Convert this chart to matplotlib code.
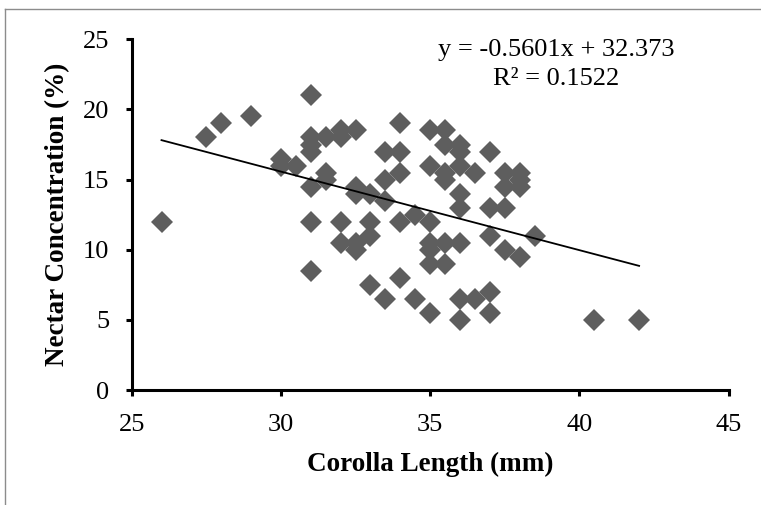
import matplotlib
matplotlib.use("Agg")
import matplotlib.pyplot as plt
import numpy as np
from matplotlib.lines import Line2D

# corolla length (mm) and nectar concentration (%)
corolla = [26, 27.5, 28, 29, 30, 30, 30.5,
           31, 31, 31, 31, 31, 31, 31,
           31.5, 31.5, 31.5,
           32, 32, 32, 32,
           32.5, 32.5, 32.5, 32.5, 32.5,
           33, 33, 33, 33,
           33.5, 33.5, 33.5, 33.5,
           34, 34, 34, 34, 34,
           34.5, 34.5,
           35, 35, 35, 35, 35, 35, 35,
           35.5, 35.5, 35.5, 35.5, 35.5, 35.5,
           36, 36, 36, 36, 36, 36, 36, 36,
           36.5, 36.5,
           37, 37, 37, 37, 37,
           37.5, 37.5, 37.5, 37.5,
           38, 38, 38, 38,
           38.5, 40.5, 42]
nectar = [12, 18, 19, 19.5, 16.5, 16, 16,
          21, 18, 17.5, 17, 14.5, 12, 8.5,
          18, 15.5, 15,
          18.5, 18, 12, 10.5,
          18.5, 14.5, 14, 10.5, 10,
          14, 12, 11, 7.5,
          17, 15, 13.5, 6.5,
          19, 17, 15.5, 12, 8,
          12.5, 6.5,
          18.5, 16, 12, 10.5, 10, 9, 5.5,
          18.5, 17.5, 15.5, 15, 10.5, 9,
          17.5, 17, 16, 14, 13, 10.5, 6.5, 5,
          15.5, 6.5,
          17, 13, 11, 7, 5.5,
          15.5, 14.5, 13, 10,
          15.5, 15, 14.5, 9.5,
          11, 5, 5]

# linear trendline as printed on the chart
SLOPE = -0.5601
INTERCEPT = 32.373
R2 = 0.1522

xticks = [25, 30, 35, 40, 45]
yticks = [0, 5, 10, 15, 20, 25]

plt.rcParams["font.family"] = ["Liberation Serif", "DejaVu Serif"]

fig = plt.figure(figsize=(7.61, 5.05), dpi=100)
ax = fig.add_axes([0.173, 0.2277, 0.7845, 0.6945])

ax.plot(corolla, nectar, linestyle="none", marker="D", markersize=10.8,
        color="#5e5e5e", markeredgewidth=0, zorder=2)

xs = np.array([min(corolla), max(corolla)])
ax.plot(xs, SLOPE * xs + INTERCEPT, color="black", linewidth=1.3, zorder=3)

ax.set_xlim(xticks[0], xticks[-1])
ax.set_ylim(yticks[0], yticks[-1])
ax.set_xticks(xticks)
ax.set_yticks(yticks)

for side in ("top", "right"):
    ax.spines[side].set_visible(False)
for side in ("left", "bottom"):
    ax.spines[side].set_linewidth(2.2)
ax.tick_params(direction="out", length=4, width=2.2, labelsize=19)
ax.tick_params(axis="x", pad=13)
ax.tick_params(axis="y", pad=12)

ax.set_xlabel("Corolla Length (mm)", fontsize=19.5, fontweight="bold", labelpad=12)
ax.set_ylabel("Nectar Concentration (%)", fontsize=19.5, fontweight="bold", labelpad=9)

ax.text(0.711, 0.969, f"y = {SLOPE}x + {INTERCEPT}", transform=ax.transAxes,
        ha="center", va="center", fontsize=19)
ax.text(0.711, 0.887, f"R\u00b2 = {R2}", transform=ax.transAxes,
        ha="center", va="center", fontsize=19)

# thin grey frame (top and left edges only, as in the source)
fx = 5 / 761
fy = 1 - 9 / 505
fig.add_artist(Line2D([fx, fx], [0, fy], transform=fig.transFigure, color="#8c8c8c", lw=1))
fig.add_artist(Line2D([fx, 1], [fy, fy], transform=fig.transFigure, color="#8c8c8c", lw=1))

fig.savefig("out.png", dpi=100)
